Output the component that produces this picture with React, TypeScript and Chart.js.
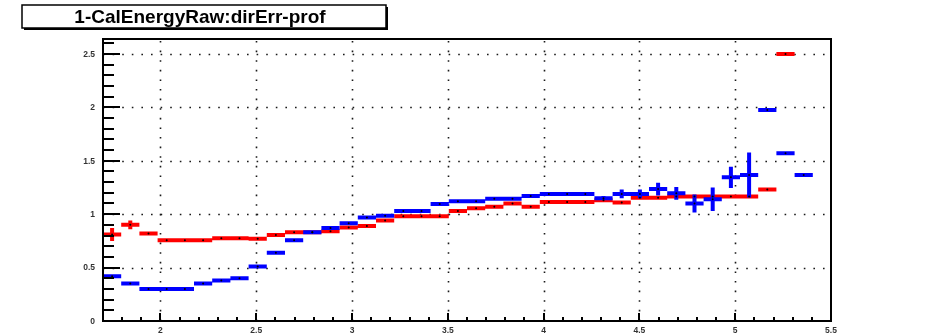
import { useEffect, useRef } from "react";
import { Chart, registerables } from "chart.js";

Chart.register(...registerables);

const histTitle = "1-CalEnergyRaw:dirErr-prof";

// 40 bins of width 0.095 between 1.7 and 5.5
const binCenters = [
  1.7475, 1.8425, 1.9375, 2.0325, 2.1275, 2.2225, 2.3175, 2.4125, 2.5075, 2.6025,
  2.6975, 2.7925, 2.8875, 2.9825, 3.0775, 3.1725, 3.2675, 3.3625, 3.4575, 3.5525,
  3.6475, 3.7425, 3.8375, 3.9325, 4.0275, 4.1225, 4.2175, 4.3125, 4.4075, 4.5025,
  4.5975, 4.6925, 4.7875, 4.8825, 4.9775, 5.0725, 5.1675, 5.2625, 5.3575, 5.4525,
];
const binHalfWidth = 0.0475;

const redMean = [
  0.81, 0.9, 0.82, 0.755, 0.755, 0.755, 0.775, 0.775, 0.77, 0.805,
  0.83, 0.83, 0.84, 0.875, 0.89, 0.94, 0.98, 0.98, 0.98, 1.03,
  1.055, 1.07, 1.1, 1.07, 1.115, 1.115, 1.115, 1.13, 1.11, 1.155,
  1.155, 1.165, 1.165, 1.165, 1.165, 1.165, 1.23, 2.5, null, null,
];
const redErr = [
  0.06, 0.04, 0.012, 0.005, 0.005, 0.005, 0.005, 0.005, 0.005, 0.005,
  0.005, 0.005, 0.005, 0.005, 0.005, 0.005, 0.005, 0.005, 0.005, 0.005,
  0.005, 0.005, 0.005, 0.005, 0.005, 0.005, 0.005, 0.005, 0.005, 0.005,
  0.005, 0.005, 0.005, 0.005, 0.005, 0.005, 0.015, 0.005, null, null,
];

const blueMean = [
  0.42, 0.35, 0.3, 0.3, 0.3, 0.35, 0.38, 0.4, 0.51, 0.64,
  0.755, 0.83, 0.87, 0.915, 0.97, 0.985, 1.03, 1.03, 1.095, 1.12,
  1.12, 1.145, 1.145, 1.17, 1.19, 1.19, 1.19, 1.15, 1.19, 1.19,
  1.235, 1.195, 1.1, 1.14, 1.345, 1.367, 1.975, 1.57, 1.367, null,
];
const blueErr = [
  0.005, 0.005, 0.005, 0.005, 0.005, 0.005, 0.005, 0.005, 0.005, 0.005,
  0.005, 0.005, 0.005, 0.005, 0.005, 0.005, 0.005, 0.005, 0.005, 0.005,
  0.005, 0.005, 0.005, 0.005, 0.005, 0.005, 0.005, 0.02, 0.04, 0.04,
  0.06, 0.06, 0.085, 0.11, 0.1, 0.21, 0.01, 0.01, 0.005, null,
];

const xMajorTicks = [2, 2.5, 3, 3.5, 4, 4.5, 5, 5.5];
const xTickLabels = ["2", "2.5", "3", "3.5", "4", "4.5", "5", "5.5"];
const yMajorTicks = [0, 0.5, 1, 1.5, 2, 2.5];
const yTickLabels = ["0", "0.5", "1", "1.5", "2", "2.5"];

const X_MIN = 1.7;
const X_MAX = 5.5;
const Y_MIN = 0;
const Y_MAX = 2.64;

type Pt = { x: number; y: number | null };

// Horizontal bin-width bars and vertical error bars, separated by gaps
function profileSegments(means: (number | null)[], errs: (number | null)[]): Pt[] {
  const pts: Pt[] = [];
  means.forEach((m, i) => {
    if (m === null) return;
    const c = binCenters[i];
    const e = errs[i] ?? 0;
    pts.push({ x: c - binHalfWidth, y: m }, { x: c + binHalfWidth, y: m }, { x: c, y: null });
    pts.push({ x: c, y: m - e }, { x: c, y: m + e }, { x: c, y: null });
  });
  return pts;
}

function centerDots(means: (number | null)[]): Pt[] {
  const pts: Pt[] = [];
  means.forEach((m, i) => {
    if (m !== null) pts.push({ x: binCenters[i], y: m });
  });
  return pts;
}

const rootFrame = {
  id: "rootFrame",
  beforeDatasetsDraw(chart: any) {
    const { ctx, chartArea: a, scales } = chart;
    const xs = scales.x;
    const ys = scales.y;
    ctx.save();
    ctx.strokeStyle = "#1a1a1a";
    ctx.lineWidth = 1.6;
    ctx.setLineDash([1.6, 8]);
    for (const v of yMajorTicks) {
      if (v <= Y_MIN) continue;
      const py = Math.round(ys.getPixelForValue(v)) + 0.5;
      ctx.beginPath();
      ctx.moveTo(a.left, py);
      ctx.lineTo(a.right, py);
      ctx.stroke();
    }
    for (const v of xMajorTicks) {
      if (v >= X_MAX) continue;
      const px = Math.round(xs.getPixelForValue(v)) + 0.5;
      ctx.beginPath();
      ctx.moveTo(px, a.bottom);
      ctx.lineTo(px, a.top);
      ctx.stroke();
    }
    ctx.restore();
  },
  afterDatasetsDraw(chart: any) {
    const { ctx, chartArea: a, scales } = chart;
    const xs = scales.x;
    const ys = scales.y;
    ctx.save();
    ctx.setLineDash([]);
    ctx.strokeStyle = "#000";

    // y axis ticks, drawn inward
    ctx.lineWidth = 2;
    for (let k = 0; k <= 26; k++) {
      const v = k / 10;
      const py = Math.round(ys.getPixelForValue(v));
      const major = k % 5 === 0;
      ctx.beginPath();
      ctx.moveTo(a.left, py);
      ctx.lineTo(a.left + (major ? 17 : 11), py);
      ctx.stroke();
    }
    // x axis ticks, drawn inward
    for (let k = 17; k <= 55; k++) {
      const v = k / 10;
      const px = Math.round(xs.getPixelForValue(v));
      const major = k % 5 === 0;
      ctx.beginPath();
      ctx.moveTo(px, a.bottom);
      ctx.lineTo(px, a.bottom - (major ? 8 : 4));
      ctx.stroke();
    }

    // frame
    ctx.lineWidth = 2;
    ctx.strokeRect(a.left, a.top, a.right - a.left, a.bottom - a.top);

    // tick labels
    ctx.fillStyle = "#333";
    ctx.font = "bold 8.5px 'Liberation Sans', Arial, sans-serif";
    ctx.textAlign = "right";
    ctx.textBaseline = "middle";
    yMajorTicks.forEach((v, i) => {
      ctx.fillText(yTickLabels[i], a.left - 8, ys.getPixelForValue(v) + 0.5);
    });
    ctx.textAlign = "center";
    ctx.textBaseline = "top";
    xMajorTicks.forEach((v, i) => {
      ctx.fillText(xTickLabels[i], xs.getPixelForValue(v), a.bottom + 5);
    });

    // title box
    const bx = 22;
    const by = 5;
    const bw = 364;
    const bh = 23;
    ctx.fillStyle = "#fff";
    ctx.fillRect(bx, by, bw, bh);
    ctx.fillStyle = "#000";
    ctx.fillRect(bx + 2, by + bh, bw, 2);
    ctx.fillRect(bx + bw, by + 2, 2, bh);
    ctx.lineWidth = 1.5;
    ctx.strokeRect(bx, by, bw, bh);
    ctx.font = "bold 19px 'Liberation Sans', Arial, sans-serif";
    ctx.textAlign = "center";
    ctx.textBaseline = "alphabetic";
    ctx.fillStyle = "#000";
    ctx.fillText(histTitle, 200, 23);
    ctx.restore();
  },
};

export default function App() {
  const canvasRef = useRef<HTMLCanvasElement | null>(null);

  useEffect(() => {
    const canvas = canvasRef.current;
    if (!canvas) return;
    const lineCommon = {
      showLine: true,
      spanGaps: false,
      borderWidth: 4,
      borderCapStyle: "butt" as const,
      pointRadius: 0,
      pointHoverRadius: 0,
      tension: 0,
    };
    const chart = new Chart(canvas, {
      type: "scatter",
      data: {
        datasets: [
          {
            ...lineCommon,
            label: "red",
            data: profileSegments(redMean, redErr) as any,
            borderColor: "#ff0000",
            backgroundColor: "#ff0000",
            order: 3,
          },
          {
            ...lineCommon,
            label: "blue",
            data: profileSegments(blueMean, blueErr) as any,
            borderColor: "#0000ff",
            backgroundColor: "#0000ff",
            order: 2,
          },
          {
            label: "red centers",
            data: centerDots(redMean) as any,
            pointRadius: 1,
            pointBorderWidth: 0,
            backgroundColor: "#000",
            borderColor: "#000",
            order: 1,
          },
          {
            label: "blue centers",
            data: centerDots(blueMean) as any,
            pointRadius: 1,
            pointBorderWidth: 0,
            backgroundColor: "#000",
            borderColor: "#000",
            order: 1,
          },
        ],
      },
      options: {
        animation: false,
        responsive: false,
        maintainAspectRatio: false,
        devicePixelRatio: 1,
        layout: { padding: { left: 103, right: 97, top: 39, bottom: 15 } },
        plugins: {
          legend: { display: false },
          tooltip: { enabled: false },
          title: { display: false },
        },
        scales: {
          x: { type: "linear", min: X_MIN, max: X_MAX, display: false },
          y: { type: "linear", min: Y_MIN, max: Y_MAX, display: false },
        },
      },
      plugins: [rootFrame],
    });
    return () => chart.destroy();
  }, []);

  return (
    <div
      style={{
        position: "fixed",
        left: 0,
        top: 0,
        width: 928,
        height: 336,
        background: "#fff",
      }}
    >
      <canvas ref={canvasRef} width={928} height={336} style={{ width: 928, height: 336 }} />
    </div>
  );
}
